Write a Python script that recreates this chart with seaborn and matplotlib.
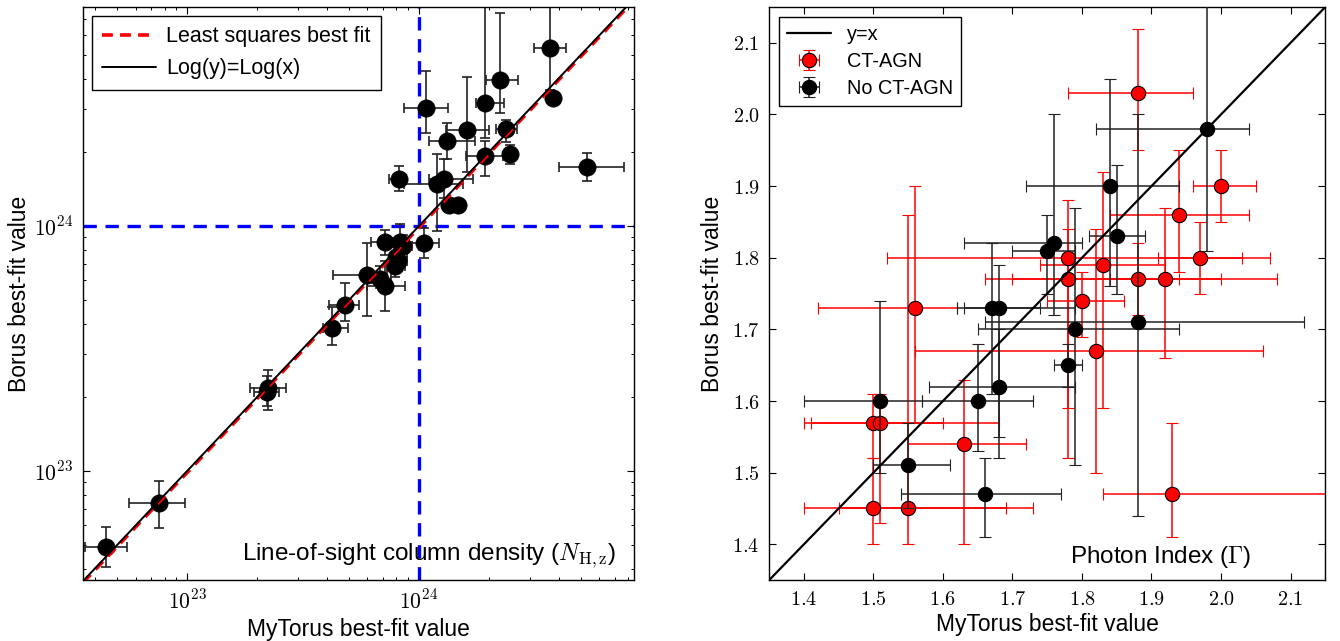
import numpy as np
import matplotlib
matplotlib.use("Agg")
import matplotlib.pyplot as plt
import seaborn as sns
from matplotlib.ticker import FixedLocator, FuncFormatter, LogLocator, NullFormatter
from matplotlib.lines import Line2D

# ---------------- Column density (cm^-2): MyTorus vs Borus ----------------
nh_mytorus = [3.67e24, 3.80e24, 2.24e24, 1.92e24, 1.07e24, 1.61e24, 2.37e24, 1.32e24,
              1.92e24, 2.48e24, 5.32e24, 8.2e23, 1.28e24, 1.20e24, 1.35e24, 1.47e24,
              1.05e24, 7.13e23, 8.3e23, 8.5e23, 8.0e23, 7.9e23, 8.1e23, 5.96e23,
              6.8e23, 7.13e23, 4.8e23, 4.23e23, 2.24e23, 2.22e23, 7.6e22, 4.48e22]
nh_mytorus_lo = [3.15e24, 3.70e24, 1.94e24, 1.76e24, 8.6e23, 1.31e24, 2.16e24, 1.10e24,
                 1.60e24, 2.35e24, 4.0e24, 7.4e23, 1.10e24, 8.6e23, 1.30e24, 1.42e24,
                 9.1e23, 6.2e23, 7.5e23, 7.8e23, 7.6e23, 7.3e23, 7.5e23, 4.25e23,
                 6.3e23, 6.0e23, 4.1e23, 3.85e23, 1.86e23, 1.95e23, 5.64e22, 3.63e22]
nh_mytorus_hi = [4.3e24, 3.90e24, 2.67e24, 2.32e24, 1.33e24, 2.00e24, 2.64e24, 1.74e24,
                 2.30e24, 2.60e24, 7.65e24, 8.8e23, 1.71e24, 1.55e24, 1.40e24, 1.52e24,
                 1.22e24, 8.2e23, 9.0e23, 9.3e23, 8.9e23, 8.7e23, 8.9e23, 7.3e23,
                 7.6e23, 8.7e23, 5.5e23, 4.95e23, 2.67e23, 2.50e23, 9.8e22, 5.5e22]
nh_borus = [5.35e24, 3.34e24, 3.95e24, 3.18e24, 3.02e24, 2.47e24, 2.48e24, 2.22e24,
            1.93e24, 1.96e24, 1.74e24, 1.55e24, 1.55e24, 1.48e24, 1.22e24, 1.22e24,
            8.5e23, 8.63e23, 8.6e23, 8.3e23, 7.5e23, 6.9e23, 7.2e23, 6.31e23,
            6.1e23, 5.69e23, 4.76e23, 3.82e23, 2.18e23, 2.10e23, 7.43e22, 4.91e22]
nh_borus_lo = [3.6e24, 3.25e24, 2.9e24, 2.29e24, 2.4e24, 1.66e24, 2.2e24, 1.88e24,
               1.6e24, 1.8e24, 1.53e24, 1.39e24, 1.30e24, 9.55e23, 1.18e24, 1.18e24,
               7.4e23, 7.6e23, 7.9e23, 7.5e23, 6.8e23, 6.2e23, 6.6e23, 4.3e23,
               5.6e23, 4.5e23, 4.1e23, 3.27e23, 1.77e23, 1.85e23, 5.84e22, 4.05e22]
nh_borus_hi = [1.2e25, 3.45e24, 7.4e24, 1.3e25, 4.3e24, 4.05e24, 2.72e24, 2.63e24,
               2.22e24, 2.15e24, 1.99e24, 1.76e24, 1.87e24, 1.96e24, 1.26e24, 1.26e24,
               9.85e23, 9.6e23, 1.02e24, 9.2e23, 8.4e23, 7.6e23, 7.9e23, 8.5e23,
               6.9e23, 7.2e23, 5.84e23, 4.68e23, 2.58e23, 2.45e23, 9.13e22, 5.93e22]

# least-squares fit in log space: log(y) = slope * log(x) + intercept
fit_slope = 1.0
fit_intercept = -0.006
nh_xlimits = [3.56e22, 8.45e24]
nh_ylimits = [3.59e22, 7.83e24]
nh_split = 1e24

# ---------------- Photon index ----------------
ct_mytorus = [1.88, 2.00, 1.94, 1.78, 1.97, 1.83, 1.78, 1.88, 1.92, 1.80, 1.56, 1.82,
              1.50, 1.51, 1.63, 1.93, 1.50, 1.55]
ct_mytorus_lo = [1.78, 1.96, 1.84, 1.52, 1.91, 1.74, 1.66, 1.70, 1.84, 1.75, 1.42, 1.56,
                 1.40, 1.41, 1.55, 1.83, 1.40, 1.45]
ct_mytorus_hi = [1.96, 2.05, 2.04, 2.07, 2.03, 1.92, 1.94, 2.08, 2.00, 1.86, 1.62, 2.06,
                 1.60, 1.68, 1.72, 2.20, 1.69, 1.73]
ct_borus = [2.03, 1.90, 1.86, 1.80, 1.80, 1.79, 1.77, 1.77, 1.77, 1.74, 1.73, 1.67,
            1.57, 1.57, 1.54, 1.47, 1.45, 1.45]
ct_borus_lo = [1.95, 1.85, 1.78, 1.52, 1.75, 1.59, 1.59, 1.72, 1.66, 1.69, 1.57, 1.50,
               1.52, 1.43, 1.40, 1.41, 1.40, 1.40]
ct_borus_hi = [2.12, 1.95, 1.95, 1.88, 1.85, 1.92, 1.84, 1.82, 1.87, 1.78, 1.90, 1.84,
               1.61, 1.61, 1.63, 1.57, 1.52, 1.86]

nct_mytorus = [1.98, 1.84, 1.85, 1.76, 1.75, 1.67, 1.68, 1.88, 1.79, 1.78, 1.68, 1.51,
               1.65, 1.55, 1.66]
nct_mytorus_lo = [1.82, 1.72, 1.81, 1.63, 1.70, 1.62, 1.63, 1.66, 1.65, 1.76, 1.58, 1.40,
                  1.57, 1.50, 1.54]
nct_mytorus_hi = [2.04, 1.94, 1.89, 1.80, 1.79, 1.74, 1.79, 2.12, 1.94, 1.80, 1.79, 1.57,
                  1.73, 1.61, 1.77]
nct_borus = [1.98, 1.90, 1.83, 1.82, 1.81, 1.73, 1.73, 1.71, 1.70, 1.65, 1.62, 1.60,
             1.60, 1.51, 1.47]
nct_borus_lo = [1.81, 1.76, 1.75, 1.72, 1.75, 1.61, 1.52, 1.44, 1.51, 1.62, 1.55, 1.50,
                1.53, 1.45, 1.41]
nct_borus_hi = [2.20, 2.05, 1.93, 2.00, 1.86, 1.82, 1.79, 2.00, 1.87, 1.68, 1.70, 1.74,
                1.68, 1.57, 1.52]

gamma_limits = [1.35, 2.15]
gamma_ticks = [1.4, 1.5, 1.6, 1.7, 1.8, 1.9, 2.0, 2.1]


def asym(val, lo, hi):
    v = np.asarray(val)
    return np.vstack([v - np.asarray(lo), np.asarray(hi) - v])


sns.set_theme(style="white")
plt.rcParams.update({
    "font.family": ["Liberation Sans", "DejaVu Sans"],
    "mathtext.fontset": "cm",
    "axes.edgecolor": "black",
    "axes.linewidth": 1.0,
    "xtick.direction": "in",
    "ytick.direction": "in",
    "xtick.top": True,
    "ytick.right": True,
    "xtick.bottom": True,
    "ytick.left": True,
    "xtick.major.size": 5,
    "ytick.major.size": 5,
    "xtick.minor.size": 2.5,
    "ytick.minor.size": 2.5,
    "xtick.major.width": 0.8,
    "ytick.major.width": 0.8,
    "xtick.color": "black",
    "ytick.color": "black",
    "axes.labelcolor": "black",
    "text.color": "black",
})

fig = plt.figure(figsize=(13.4, 6.41), dpi=100)
ax1 = fig.add_axes([0.062, 0.095, 0.411, 0.894])
ax2 = fig.add_axes([0.574, 0.095, 0.415, 0.894])

# ---------------- Left panel ----------------
ax1.set_xscale("log")
ax1.set_yscale("log")
ax1.errorbar(nh_mytorus, nh_borus,
             xerr=asym(nh_mytorus, nh_mytorus_lo, nh_mytorus_hi),
             yerr=asym(nh_borus, nh_borus_lo, nh_borus_hi),
             fmt="none", ecolor="#222222", elinewidth=1.2, capsize=3.6, capthick=1.2, zorder=2)
sns.scatterplot(x=nh_mytorus, y=nh_borus, ax=ax1, color="black", edgecolor="black",
                s=155, linewidth=0.5, zorder=3, legend=False)

line_x = np.array([nh_xlimits[0], nh_xlimits[1]])
fit_y = 10 ** (fit_slope * np.log10(line_x) + fit_intercept)
sns.lineplot(x=line_x, y=fit_y, ax=ax1, color="red", linewidth=2.6, zorder=4,
             label="Least squares best fit", legend=False)
ax1.lines[-1].set_dashes([3, 2])
sns.lineplot(x=line_x, y=line_x, ax=ax1, color="black", linewidth=1.4, zorder=5,
             label="Log(y)=Log(x)", legend=False)
ax1.axvline(nh_split, color="blue", lw=2.4, dashes=[4, 2.6], zorder=1)
ax1.axhline(nh_split, color="blue", lw=2.4, dashes=[4, 2.6], zorder=1)

ax1.set_xlim(nh_xlimits)
ax1.set_ylim(nh_ylimits)
for axis in (ax1.xaxis, ax1.yaxis):
    axis.set_major_locator(FixedLocator([1e23, 1e24]))
    axis.set_major_formatter(FuncFormatter(lambda v, p: r"$10^{%d}$" % round(np.log10(v))))
    axis.set_minor_locator(LogLocator(base=10, subs=np.arange(2, 10), numticks=20))
    axis.set_minor_formatter(NullFormatter())
ax1.tick_params(which="both", direction="in", top=True, right=True, labelsize=15.5, pad=7)
ax1.tick_params(which="minor", length=2.5, width=0.7)
ax1.set_xlabel("MyTorus best-fit value", fontsize=16.5, labelpad=3)
ax1.set_ylabel("Borus best-fit value", fontsize=16.5, labelpad=2)
handles1 = [Line2D([], [], color="red", lw=2.6, dashes=[3, 2]),
            Line2D([], [], color="black", lw=1.4)]
leg1 = ax1.legend(handles1, ["Least squares best fit", "Log(y)=Log(x)"], loc="upper left",
                  fontsize=15.5, frameon=True, fancybox=False, framealpha=1, edgecolor="black",
                  handlelength=2.5, borderpad=0.5, labelspacing=0.5, handletextpad=0.45,
                  borderaxespad=0.4)
leg1.get_frame().set_linewidth(1.0)
ax1.text(0.968, 0.018, r"Line-of-sight column density ($N_{\rm H,z}$)", transform=ax1.transAxes,
         ha="right", va="bottom", fontsize=17.5)

# ---------------- Right panel ----------------
ax2.errorbar(ct_mytorus, ct_borus,
             xerr=asym(ct_mytorus, ct_mytorus_lo, ct_mytorus_hi),
             yerr=asym(ct_borus, ct_borus_lo, ct_borus_hi),
             fmt="o", color="red", ecolor="red", mfc="red", mec="black", mew=0.8, ms=10.3,
             elinewidth=1.1, capsize=4, capthick=1.1, zorder=3, label="CT-AGN")
ax2.errorbar(nct_mytorus, nct_borus,
             xerr=asym(nct_mytorus, nct_mytorus_lo, nct_mytorus_hi),
             yerr=asym(nct_borus, nct_borus_lo, nct_borus_hi),
             fmt="o", color="black", ecolor="#222222", mfc="black", mec="black", mew=0.8,
             ms=10.3, elinewidth=1.1, capsize=4, capthick=1.1, zorder=4, label="No CT-AGN")
sns.lineplot(x=gamma_limits, y=gamma_limits, ax=ax2, color="black", linewidth=1.6,
             zorder=5, label="y=x", legend=False)

ax2.set_xlim(gamma_limits)
ax2.set_ylim(gamma_limits)
ax2.xaxis.set_major_locator(FixedLocator(gamma_ticks))
ax2.yaxis.set_major_locator(FixedLocator(gamma_ticks))
ax2.xaxis.set_major_formatter(FuncFormatter(lambda v, p: r"$%.1f$" % v))
ax2.yaxis.set_major_formatter(FuncFormatter(lambda v, p: r"$%.1f$" % v))
ax2.tick_params(which="both", direction="in", top=True, right=True, labelsize=14.5, pad=7)
ax2.set_xlabel("MyTorus best-fit value", fontsize=16.5, labelpad=3)
ax2.set_ylabel("Borus best-fit value", fontsize=16.5, labelpad=6)
h, l = ax2.get_legend_handles_labels()
order = [l.index("y=x"), l.index("CT-AGN"), l.index("No CT-AGN")]
leg2 = ax2.legend([h[i] for i in order], [l[i] for i in order], loc="upper left",
                  fontsize=14.3, numpoints=1, frameon=True, fancybox=False, framealpha=1,
                  edgecolor="black", handlelength=2.2, borderpad=0.4, labelspacing=0.4,
                  handletextpad=0.8, borderaxespad=0.5)
leg2.get_frame().set_linewidth(1.0)
ax2.text(0.868, 0.018, r"Photon Index ($\Gamma$)", transform=ax2.transAxes,
         ha="right", va="bottom", fontsize=17.5)

for ax in (ax1, ax2):
    for s in ax.spines.values():
        s.set_color("black")
        s.set_linewidth(1.0)

fig.savefig("out.png", dpi=100)
